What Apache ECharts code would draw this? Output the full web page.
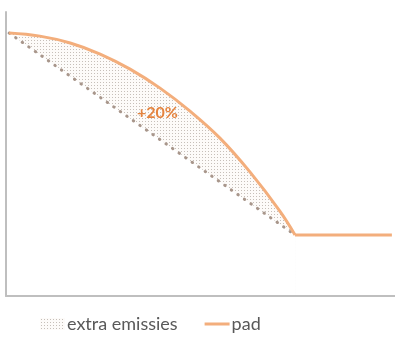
<!DOCTYPE html>
<html><head><meta charset="utf-8">
<script src="https://cdn.jsdelivr.net/npm/echarts@6/dist/echarts.min.js"></script>
<style>html,body{margin:0;padding:0;background:#fff}#c{width:395px;height:337px}</style>
</head><body><div id="c"></div>
<script>
// curve ("pad") points: [x, y] on a 0-100 scale
const padCurveX = [0.8, 8.7, 16.5, 24.2, 31.9, 39.6, 47.3, 55.0, 62.7, 70.4, 74.3];
const padCurveY = [92.6, 91.5, 89.1, 85.2, 79.9, 73.2, 65.1, 55.6, 43.7, 29.9, 21.5];
const padFlatX = [74.3, 99.2];
const padFlatY = [21.5, 21.5];
// straight dotted baseline
const baseX = [0.8, 74.3];
const baseY = [92.6, 21.5];
const labelText = '+20%';
const seriesNames = ['extra emissies', 'pad'];

const zip = (a, b) => a.map((v, i) => [v, b[i]]);

// dotted pattern
const pc = document.createElement('canvas');
pc.width = 3; pc.height = 3;
const pctx = pc.getContext('2d');
pctx.fillStyle = '#fdfbf9'; pctx.fillRect(0, 0, 3, 3);
pctx.fillStyle = '#c6bfb9'; pctx.fillRect(1, 1, 1, 1);
const pattern = { image: pc, repeat: 'repeat' };

const orange = '#F3AE7C';
const chart = echarts.init(document.getElementById('c'), null, { renderer: 'canvas' });
chart.setOption({
  animation: false,
  backgroundColor: '#fff',
  grid: { left: 6, right: 0, top: 12, bottom: 41, containLabel: false },
  xAxis: {
    type: 'value', min: 0, max: 100, z: 10,
    axisLine: { show: true, lineStyle: { color: '#bfbfbf', width: 2 } },
    axisTick: { show: false }, axisLabel: { show: false }, splitLine: { show: false }
  },
  yAxis: {
    type: 'value', min: 0, max: 100, z: 10,
    axisLine: { show: true, lineStyle: { color: '#bfbfbf', width: 2 } },
    axisTick: { show: false }, axisLabel: { show: false }, splitLine: { show: false }
  },
  legend: {
    left: 40, top: 315, padding: 0, itemWidth: 25, itemHeight: 12, itemGap: 27,
    textStyle: { fontFamily: 'Lato', fontSize: 18, color: '#595959', padding: [0, 0, 0, -3] },
    data: [
      { name: seriesNames[0], icon: 'rect', itemStyle: { color: pattern, borderWidth: 0 } },
      { name: seriesNames[1], icon: 'path://M0,0h0.01v0.01h-0.01z M0,4.5h25v3h-25z M0,12h0.01v0.01h-0.01z' }
    ]
  },
  series: [
    {
      name: seriesNames[0], type: 'line', smooth: 0.4, symbol: 'none', z: 1,
      data: zip(padCurveX, padCurveY),
      lineStyle: { width: 0, opacity: 0 },
      itemStyle: { color: pattern },
      areaStyle: { color: pattern, opacity: 1 }
    },
    {
      name: 'cover', type: 'line', symbol: 'none', z: 2, silent: true,
      data: zip(baseX, baseY),
      lineStyle: { width: 0, opacity: 0 },
      areaStyle: { color: '#ffffff', opacity: 1 }
    },
    {
      name: 'base', type: 'line', symbol: 'none', z: 3, silent: true,
      data: zip(baseX, baseY),
      lineStyle: { color: '#a8968b', width: 3, type: [0.5, 7.5], cap: 'round' }
    },
    {
      name: seriesNames[1], type: 'line', smooth: 0.4, symbol: 'none', z: 4,
      data: zip(padCurveX, padCurveY),
      lineStyle: { color: orange, width: 3 }, itemStyle: { color: orange }
    },
    {
      name: seriesNames[1], type: 'line', symbol: 'none', z: 4,
      data: zip(padFlatX, padFlatY),
      lineStyle: { color: orange, width: 3 }, itemStyle: { color: orange }
    }
  ],
  graphic: [{
    type: 'text', left: 137, top: 105, z: 20,
    style: { text: labelText, fill: '#E5843F', font: 'bold 16px Lato' }
  }]
});
</script></body></html>
